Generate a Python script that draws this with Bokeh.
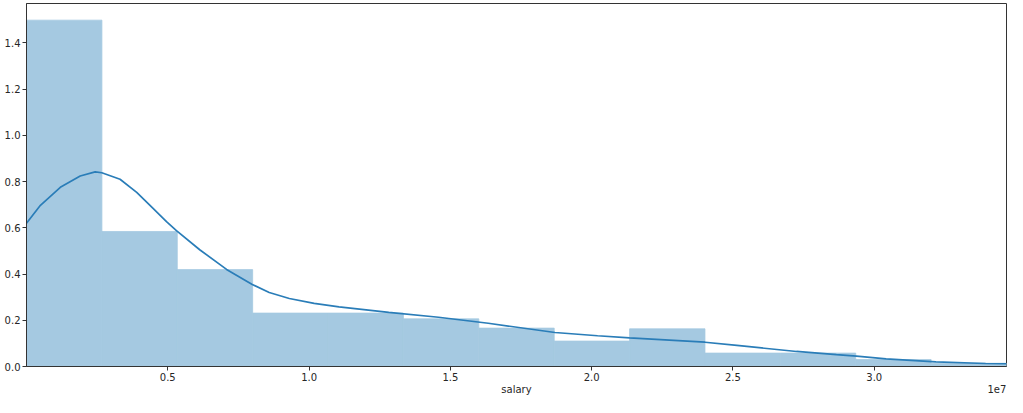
from bokeh.plotting import figure
from bokeh.models import Range1d, FixedTicker, LinearAxis, PrintfTickFormatter
from bokeh.embed import file_html
from bokeh.resources import INLINE

# salary in units of 1e7, density in units of 1e-7
bin_edges = [0.0, 0.2668, 0.5335, 0.8003, 1.0671, 1.3338, 1.6006, 1.8674,
             2.1342, 2.4009, 2.6677, 2.9345, 3.2012, 3.468]
bin_density = [1.498, 0.584, 0.419, 0.231, 0.231, 0.206, 0.166, 0.110,
               0.163, 0.058, 0.058, 0.030, 0.014]

kde_x = [0.0, 0.0493, 0.1197, 0.190, 0.243, 0.2665, 0.331, 0.390, 0.447,
         0.4954, 0.5306, 0.613, 0.708, 0.799, 0.859, 0.930, 1.018, 1.106,
         1.282, 1.458, 1.634, 1.870, 2.021, 2.134, 2.401, 2.514, 2.725,
         2.866, 2.937, 3.042, 3.218, 3.394, 3.468]
kde_y = [0.620, 0.697, 0.775, 0.824, 0.842, 0.838, 0.810, 0.753, 0.685,
         0.627, 0.588, 0.505, 0.420, 0.355, 0.320, 0.294, 0.273, 0.258,
         0.234, 0.213, 0.187, 0.147, 0.133, 0.124, 0.105, 0.091, 0.065,
         0.051, 0.045, 0.033, 0.020, 0.013, 0.012]

x_ticks = [0.5, 1.0, 1.5, 2.0, 2.5, 3.0]
y_ticks = [0.0, 0.2, 0.4, 0.6, 0.8, 1.0, 1.2, 1.4]
x_label = "salary"
x_offset_label = "1e7"

FONT = "DejaVu Sans"
TXT = "#262626"
LINE = "#333333"
BAR = "#a5c9e1"   # C0 at 40% opacity over white

p = figure(width=1007, height=397, output_backend="svg", toolbar_location=None,
           x_range=Range1d(bin_edges[0], bin_edges[-1]),
           y_range=Range1d(0, 1.57),
           min_border_left=26, min_border_right=1, min_border_top=3,
           min_border_bottom=0)

p.quad(left=bin_edges[:-1], right=bin_edges[1:], bottom=0, top=bin_density,
       fill_color=BAR, line_color=BAR, line_width=0.8)
p.line(kde_x, kde_y, line_color="#2a7db8", line_width=1.7)

p.xgrid.visible = False
p.ygrid.visible = False
p.outline_line_color = LINE
p.outline_line_width = 1
p.background_fill_color = "white"
p.border_fill_color = "white"

for ax, ticks in ((p.xaxis[0], x_ticks), (p.yaxis[0], y_ticks)):
    ax.ticker = FixedTicker(ticks=ticks)
    ax.formatter = PrintfTickFormatter(format="%.1f")
    ax.minor_tick_line_color = None
    ax.major_tick_in = 0
    ax.major_tick_out = 4
    ax.major_tick_line_color = LINE
    ax.axis_line_color = LINE
    ax.major_label_text_font = FONT
    ax.major_label_text_font_size = "10px"
    ax.major_label_text_color = TXT
    ax.major_label_standoff = 2

# row under the tick labels: axis title in the middle, offset text at right
mid = (bin_edges[0] + bin_edges[-1]) / 2
off_pos = bin_edges[-1] - 0.034
label_axis = LinearAxis(ticker=FixedTicker(ticks=[mid, off_pos]),
                        major_label_overrides={mid: x_label, off_pos: x_offset_label},
                        major_tick_in=0, major_tick_out=0,
                        major_tick_line_color=None, minor_tick_line_color=None,
                        axis_line_color=None, major_label_standoff=0,
                        major_label_text_font=FONT,
                        major_label_text_font_size="10px",
                        major_label_text_color=TXT)
p.add_layout(label_axis, "below")

open("out.html", "w").write(file_html(p, INLINE))
